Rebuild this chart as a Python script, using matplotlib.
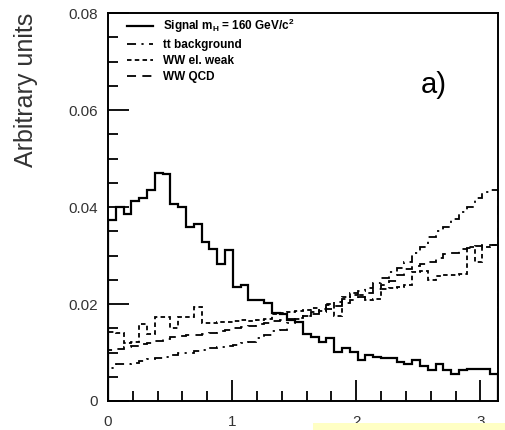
import numpy as np
import matplotlib
matplotlib.use('Agg')
import matplotlib.pyplot as plt
from matplotlib.patches import Rectangle
from matplotlib.ticker import MultipleLocator

plt.rcParams['font.family'] = ['Liberation Sans', 'DejaVu Sans']

# 50 bins from 0 to pi
edges = np.linspace(0, np.pi, 51)

signal = [0.0373, 0.0401, 0.0386, 0.0412, 0.0419, 0.0436, 0.0471, 0.0469, 0.0407, 0.0400,
          0.0358, 0.0364, 0.0327, 0.0313, 0.0282, 0.0312, 0.0235, 0.0240, 0.0209, 0.0209,
          0.0202, 0.0181, 0.0180, 0.0166, 0.0162, 0.0138, 0.0131, 0.0121, 0.0129, 0.0101,
          0.0109, 0.0101, 0.0085, 0.0094, 0.0090, 0.0088, 0.0088, 0.0080, 0.0077, 0.0085,
          0.0073, 0.0063, 0.0077, 0.0063, 0.0056, 0.0064, 0.0066, 0.0066, 0.0065, 0.0055]

tt_bkg = [0.0068, 0.0076, 0.0077, 0.0078, 0.0082, 0.0086, 0.0088, 0.0090, 0.0095, 0.0098,
          0.0100, 0.0104, 0.0106, 0.0109, 0.0111, 0.0113, 0.0115, 0.0120, 0.0122, 0.0130,
          0.0136, 0.0144, 0.0146, 0.0160, 0.0170, 0.0176, 0.0183, 0.0190, 0.0197, 0.0205,
          0.0210, 0.0218, 0.0227, 0.0234, 0.0243, 0.0253, 0.0265, 0.0275, 0.0287, 0.0306,
          0.0318, 0.0338, 0.0350, 0.0358, 0.0375, 0.0390, 0.0400, 0.0418, 0.0430, 0.0436]

ww_ew = [0.0142, 0.0140, 0.0120, 0.0121, 0.0159, 0.0138, 0.0174, 0.0174, 0.0151, 0.0174,
         0.0174, 0.0193, 0.0160, 0.0160, 0.0162, 0.0162, 0.0164, 0.0166, 0.0165, 0.0168,
         0.0170, 0.0180, 0.0182, 0.0184, 0.0185, 0.0188, 0.0192, 0.0185, 0.0200, 0.0176,
         0.0215, 0.0222, 0.0218, 0.0208, 0.0210, 0.0230, 0.0234, 0.0236, 0.0240, 0.0266,
         0.0268, 0.0250, 0.0258, 0.0260, 0.0260, 0.0262, 0.0318, 0.0286, 0.0318, 0.0322]

ww_qcd = [0.0105, 0.0107, 0.0111, 0.0114, 0.0117, 0.0120, 0.0124, 0.0127, 0.0131, 0.0133,
          0.0136, 0.0137, 0.0139, 0.0141, 0.0144, 0.0147, 0.0150, 0.0153, 0.0155, 0.0158,
          0.0161, 0.0164, 0.0167, 0.0169, 0.0172, 0.0176, 0.0180, 0.0184, 0.0190, 0.0196,
          0.0203, 0.0208, 0.0214, 0.0222, 0.0230, 0.0240, 0.0248, 0.0260, 0.0272, 0.0279,
          0.0283, 0.0286, 0.0294, 0.0303, 0.0305, 0.0313, 0.0316, 0.0320, 0.0321, 0.0322]

labels = [r'Signal m$_\mathregular{H}$ = 160 GeV/c$^\mathregular{2}$',
          'tt background', 'WW el. weak', 'WW QCD']

fig = plt.figure(figsize=(5.06, 4.30), dpi=100)
ax = fig.add_axes([108 / 506, 1 - 401 / 430, 390 / 506, 388 / 430])

ax.stairs(signal, edges, color='black', lw=1.6, label=labels[0])
ax.stairs(tt_bkg, edges, color='black', lw=1.3, linestyle=(0, (5, 3, 1.2, 3)), label=labels[1])
ax.stairs(ww_ew, edges, color='black', lw=1.3, linestyle=(0, (2.5, 1.8)), label=labels[2])
ax.stairs(ww_qcd, edges, color='black', lw=1.3, linestyle=(0, (5, 3.5)), label=labels[3])

ax.set_xlim(0, np.pi)
ax.set_ylim(0, 0.08)
ax.set_ylabel('Arbitrary units', fontsize=18, color='#333333', loc='top', labelpad=22)

ax.xaxis.set_major_locator(MultipleLocator(1))
ax.xaxis.set_minor_locator(MultipleLocator(0.2))
ax.yaxis.set_major_locator(MultipleLocator(0.02))
ax.yaxis.set_minor_locator(MultipleLocator(0.005))
ax.set_yticks([0, 0.02, 0.04, 0.06, 0.08], ['0', '0.02', '0.04', '0.06', '0.08'])
ax.tick_params(which='both', direction='in', top=False, right=False,
               labelsize=11, labelcolor='#333333', width=1.3)
ax.tick_params(which='major', length=15, pad=7)
ax.tick_params(axis='x', which='major', pad=10)
ax.tick_params(which='minor', length=7)
for s in ax.spines.values():
    s.set_linewidth(1.4)

leg = ax.legend(loc='upper left', bbox_to_anchor=(0.05, 0.99), frameon=False,
                fontsize=8.5, handlelength=2.2, handletextpad=0.8,
                labelspacing=0.35, borderpad=0, borderaxespad=0)
for t in leg.get_texts():
    t.set_fontweight('bold')

ax.text(0.835, 0.815, 'a)', transform=ax.transAxes, fontsize=21,
        ha='center', va='center')

# light yellow box at the bottom edge
fig.patches.append(Rectangle((313 / 506, 0), 193 / 506, 7 / 430,
                             transform=fig.transFigure, facecolor='#ffffc4',
                             edgecolor='none', zorder=10))

fig.savefig('out.png', dpi=100)
